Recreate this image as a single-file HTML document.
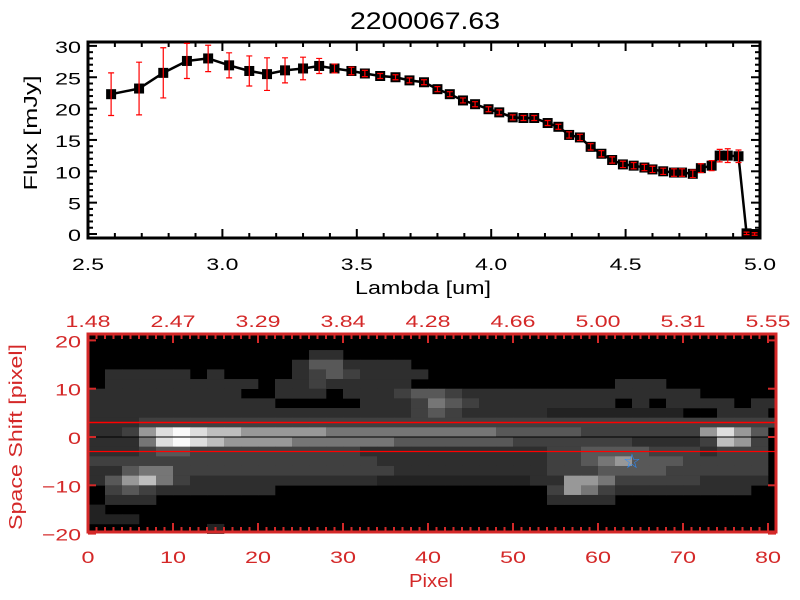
<!DOCTYPE html>
<html><head><meta charset="utf-8"><style>
body{margin:0;background:#fff;}
svg{display:block;font-family:"Liberation Sans",sans-serif;}
</style></head><body>
<svg id="c" width="800" height="600" xmlns="http://www.w3.org/2000/svg">
<rect width="800" height="600" fill="#fff"/>
<text x="425" y="29" font-size="24" text-anchor="middle" textLength="150" lengthAdjust="spacingAndGlyphs">2200067.63</text>
<text x="37" y="133" font-size="18" text-anchor="middle" textLength="115" lengthAdjust="spacingAndGlyphs" transform="rotate(-90 37 133)">Flux [mJy]</text>
<text x="423" y="294" font-size="18" text-anchor="middle" textLength="136" lengthAdjust="spacingAndGlyphs">Lambda [um]</text>
<text x="22" y="437" font-size="18" fill="#d42828" text-anchor="middle" textLength="186" lengthAdjust="spacingAndGlyphs" transform="rotate(-90 22 437)">Space Shift [pixel]</text>
<text x="431" y="587" font-size="18" fill="#d42828" text-anchor="middle" textLength="44" lengthAdjust="spacingAndGlyphs">Pixel</text>
<g id="g"></g>
</svg>
<script>
const lambda=[2.586,2.69,2.78,2.868,2.947,3.025,3.1,3.166,3.233,3.3,3.36,3.417,3.48,3.53,3.587,3.644,3.696,3.75,3.8,3.846,3.895,3.94,3.99,4.03,4.08,4.12,4.16,4.21,4.25,4.29,4.33,4.37,4.41,4.45,4.49,4.53,4.57,4.6,4.64,4.68,4.71,4.75,4.78,4.82,4.85,4.88,4.92,4.95,4.98];
const flux=[22.3,23.2,25.7,27.6,28.0,26.9,26.0,25.5,26.1,26.4,26.8,26.4,26.0,25.6,25.2,25.0,24.5,24.2,23.1,22.3,21.3,20.7,19.9,19.4,18.6,18.5,18.5,17.7,17.1,15.8,15.4,13.9,12.8,11.8,11.1,10.9,10.6,10.3,10.0,9.8,9.8,9.6,10.5,10.9,12.5,12.5,12.4,0.1,0.0];
const fluxErr=[3.4,4.2,4.0,2.8,2.1,2.0,2.4,2.6,2.0,1.8,1.2,0.7,0.6,0.5,0.4,0.4,0.4,0.4,0.4,0.4,0.4,0.4,0.4,0.4,0.4,0.4,0.4,0.4,0.4,0.5,0.5,0.5,0.5,0.5,0.5,0.5,0.5,0.5,0.5,0.6,0.6,0.6,0.7,0.8,1.0,1.1,1.0,0.2,0.2];
const xTicks=["2.5","3.0","3.5","4.0","4.5","5.0"];
const yTicks=["0","5","10","15","20","25","30"];
const topTickLabels=["1.48","2.47","3.29","3.84","4.28","4.66","5.00","5.31","5.55"];
const pixTicks=["0","10","20","30","40","50","60","70","80"];
const shiftTicks=["-20","-10","0","10","20"];
const heatRows=[
"00000000000000000000000000000000000000000",
"00000000000002200000000000000000000000000",
"00000000000024422220000000000000000000000",
"02222202000023432222000000000000000000000",
"02222222220223222220000000000002220000000",
"22222222200222022234432222222222222200000",
"22222222222000002223543222222220202222022",
"22222222222222222223432222211111111002220",
"22233333333333333333333333333333333333333",
"22368987766666555555555544444333333368640",
"22258987666655555544444443333333222237630",
"22234433333333332222222222233444433323330",
"33333333333333333222222222233456444333330",
"22455333333333333322222222233344443333330",
"24675322222222222111111111226653333322220",
"03432222222000000000000000036532222222200",
"02220000000000000000000000022220000000000",
"10000000000000000000000000000000000000000",
"11100000000000000000000000000000000000000",
"00000001000000000000000000000000000000000"];
const starPos=[64,-5];

const NS="http://www.w3.org/2000/svg";
const g=document.getElementById('g');
function el(t,a,p){const e=document.createElementNS(NS,t);for(const k in a)e.setAttribute(k,a[k]);(p||g).appendChild(e);return e;}
function tw(s){let w=0;for(const ch of s)w+=(ch==='.'?6:(ch==='-'?13:13));return w;}
function label(s,x,y,anchor,fill){
  const t=s.replace('-','−');
  const e=el('text',{x:x,y:y,'font-size':17,'text-anchor':anchor,fill:fill,textLength:tw(s),lengthAdjust:'spacingAndGlyphs'});
  e.textContent=t;return e;
}
const L=88,R=760,T=42,B=238;
const X=v=>L+(v-2.5)/2.5*(R-L);
const Y=v=>234-v*6.27;
const HL=88,HR=776,HT=334,HB=532;
const PX=v=>HL+v*8.5;
const PY=v=>437-v*4.83;
const red="#d42828";
const greys=[0,34,46,64,88,118,152,190,222,250];

const hm=el('g',{});


el('rect',{x:HL,y:HT,width:HR-HL,height:HB-HT,fill:'#000'},hm);
heatRows.forEach((row,ri)=>{
  const yTop=20-ri*2;
  for(let c=0;c<row.length;c++){
    const v=+row[c]; if(!v) continue;
    const x0=PX(c*2), x1=Math.min(PX(c*2+2),HR);
    const gv=greys[v];
    const r=el('rect',{x:x0,y:PY(yTop),width:x1-x0+0.3,height:PY(yTop-2)-PY(yTop)+0.3,fill:`rgb(${gv},${gv},${gv})`},hm);
    
    
  }
});
let ln=el('line',{x1:HL,x2:HR,y1:PY(3),y2:PY(3),stroke:'#f00','stroke-width':1.5});

ln=el('line',{x1:HL,x2:HR,y1:PY(-3),y2:PY(-3),stroke:'#f00','stroke-width':1.2});

ln=el('line',{x1:HL,x2:HR,y1:PY(0),y2:PY(0),stroke:'#000','stroke-width':1});

const st=el('text',{x:PX(starPos[0]),y:PY(starPos[1])+7,'font-size':20,fill:'#2a8cff','text-anchor':'middle'});
st.textContent='☆';

el('rect',{x:HL,y:HT,width:HR-HL,height:HB-HT,fill:'none',stroke:red,'stroke-width':3});
for(let p=0;p<=81;p++){
  const len=(p%10===0)?9:5;
  el('line',{x1:PX(p),x2:PX(p),y1:HB,y2:HB-len,stroke:red,'stroke-width':2});
  el('line',{x1:PX(p),x2:PX(p),y1:HT,y2:HT+len,stroke:red,'stroke-width':2});
}
pixTicks.forEach(t=>{
  const e=label(t,PX(+t),563,'middle',red);
  
});
topTickLabels.forEach((t,i)=>{
  const e=label(t,PX(i*10),327,'middle',red);
  
});
shiftTicks.forEach(t=>{
  const v=+t;
  el('line',{x1:HL,x2:HL+8,y1:PY(v),y2:PY(v),stroke:red,'stroke-width':2});
  el('line',{x1:HR,x2:HR-8,y1:PY(v),y2:PY(v),stroke:red,'stroke-width':2});
  const e=label(t,81,PY(v)+7,'end',red);
  
});

el('rect',{x:L,y:T,width:R-L,height:B-T,fill:'none',stroke:'#000','stroke-width':3});
for(let i=0;i<=25;i++){
  const v=2.5+i*0.1,len=(i%5===0)?9:5;
  el('line',{x1:X(v),x2:X(v),y1:B,y2:B-len,stroke:'#000','stroke-width':2});
  el('line',{x1:X(v),x2:X(v),y1:T,y2:T+len,stroke:'#000','stroke-width':2});
}
for(let v=0;v<=30;v++){
  const len=(v%5===0)?9:5;
  el('line',{x1:L,x2:L+len,y1:Y(v),y2:Y(v),stroke:'#000','stroke-width':2});
  el('line',{x1:R,x2:R-len,y1:Y(v),y2:Y(v),stroke:'#000','stroke-width':2});
}
xTicks.forEach(t=>{
  const e=label(t,X(+t),270,'middle','#000');
  
});
yTicks.forEach(t=>{
  const e=label(t,81,Y(+t)+7,'end','#000');
  
});
const pts=lambda.map((l,i)=>X(l)+','+Y(flux[i])).join(' ');
const pl=el('polyline',{points:pts,fill:'none',stroke:'#000','stroke-width':2.5});

lambda.forEach((l,i)=>{
  const x=X(l),y=Y(flux[i]);
  const m=el('rect',{x:x-5,y:y-5,width:10,height:10,fill:'#000'});
  
});
lambda.forEach((l,i)=>{
  const x=X(l),y1=Y(flux[i]+fluxErr[i]),y2=Y(flux[i]-fluxErr[i]);
  const eb=el('path',{d:`M${x},${y1}V${y2}M${x-3},${y1}H${x+3}M${x-3},${y2}H${x+3}`,stroke:'#f00','stroke-width':1.2,fill:'none'});
  
});
</script>
</body></html>
